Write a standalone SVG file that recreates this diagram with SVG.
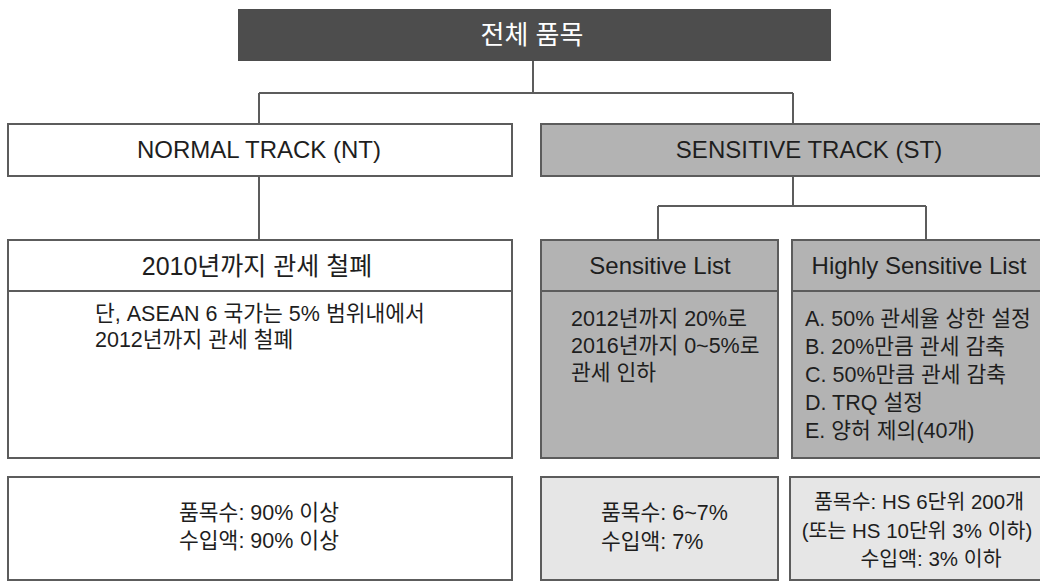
<svg xmlns="http://www.w3.org/2000/svg" width="1040" height="581" viewBox="0 0 1040 581">
<style>
  text { font-family: "Liberation Sans", "Noto Sans CJK KR", sans-serif; fill: #1e1e1e; }
  .h { font-size: 24px; text-anchor: middle; }
  .hk { font-size: 25px; text-anchor: middle; }
  .b { font-size: 21.5px; }
  .s { font-size: 20.5px; }
  .c { text-anchor: middle; }
  .box { stroke: #5c5c5c; stroke-width: 2; }
  .white { fill: #ffffff; }
  .grey { fill: #b3b3b3; }
  .light { fill: #e6e6e6; }
  .sep { stroke: #5c5c5c; stroke-width: 2; fill: none; }
  .conn { stroke: #5c5c5c; stroke-width: 2; fill: none; }
</style>
<rect width="1040" height="581" fill="#ffffff"/>
<g id="connectors">
  <path class="conn" d="M533 61 V93 M259 93 H793 M259 93 V124 M793 93 V124"/>
  <path class="conn" d="M259 176 V240"/>
  <path class="conn" d="M793 176 V206 M658 206 H926 M658 206 V240 M926 206 V240"/>
</g>
<g id="all-items">
  <rect x="238" y="9" width="593" height="52" fill="#4d4d4d"/>
  <text class="hk" x="532" y="44" style="fill:#ffffff;font-size:26px">전체 품목</text>
</g>
<g id="normal-track">
  <rect class="box white" x="8" y="124" width="504" height="52"/>
  <text class="h" x="259" y="158">NORMAL TRACK (NT)</text>
</g>
<g id="sensitive-track">
  <rect class="box grey" x="541" y="124" width="540" height="52"/>
  <text class="h" x="809" y="158">SENSITIVE TRACK (ST)</text>
</g>
<g id="nt-list">
  <rect class="box white" x="8" y="240" width="504" height="218"/>
  <line class="sep" x1="8" y1="291" x2="512" y2="291"/>
  <text class="hk" x="257" y="275">2010년까지 관세 철폐</text>
  <text class="b" x="95" y="321">단, ASEAN 6 국가는 5% 범위내에서</text>
  <text class="b" x="95" y="347">2012년까지 관세 철폐</text>
</g>
<g id="sensitive-list">
  <rect class="box grey" x="541" y="240" width="237" height="218"/>
  <line class="sep" x1="541" y1="291" x2="778" y2="291"/>
  <text class="h" x="660" y="274">Sensitive List</text>
  <text class="b" x="571" y="326">2012년까지 20%로</text>
  <text class="b" x="571" y="353">2016년까지 0~5%로</text>
  <text class="b" x="571" y="380">관세 인하</text>
</g>
<g id="highly-sensitive-list">
  <rect class="box grey" x="792" y="240" width="270" height="218"/>
  <line class="sep" x1="792" y1="291" x2="1062" y2="291"/>
  <text class="h" x="919" y="274">Highly Sensitive List</text>
  <text class="b" x="805" y="326">A. 50% 관세율 상한 설정</text>
  <text class="b" x="805" y="354">B. 20%만큼 관세 감축</text>
  <text class="b" x="805" y="382">C. 50%만큼 관세 감축</text>
  <text class="b" x="805" y="410">D. TRQ 설정</text>
  <text class="b" x="805" y="438">E. 양허 제의(40개)</text>
</g>
<g id="nt-share">
  <rect class="box white" x="8" y="477" width="504" height="103"/>
  <text class="b c" x="259" y="520">품목수: 90% 이상</text>
  <text class="b c" x="259" y="548">수입액: 90% 이상</text>
</g>
<g id="sl-share">
  <rect class="box light" x="541" y="477" width="237" height="103"/>
  <text class="b" x="601" y="520">품목수: 6~7%</text>
  <text class="b" x="601" y="549">수입액: 7%</text>
</g>
<g id="hsl-share">
  <rect class="box light" x="790" y="477" width="272" height="103"/>
  <text class="s c" x="919" y="509">품목수: HS 6단위 200개</text>
  <text class="s c" x="917" y="538">(또는 HS 10단위 3% 이하)</text>
  <text class="s c" x="931" y="566">수입액: 3% 이하</text>
</g>
</svg>
